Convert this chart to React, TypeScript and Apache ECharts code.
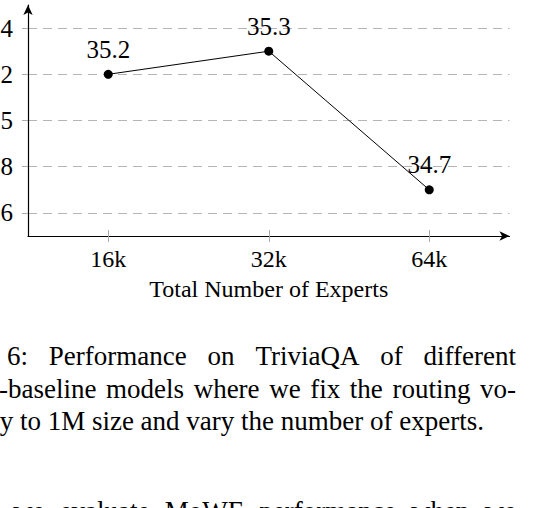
import React, { useEffect, useRef } from "react";
import * as echarts from "echarts";

const categories = ["16k", "32k", "64k"];
const scores = [35.2, 35.3, 34.7];
const yTicks = [34.6, 34.8, 35, 35.2, 35.4];
const xAxisTitle = "Total Number of Experts";
const captionLine1Hidden = "Figure";
const captionLine1 = ["6:", "Performance", "on", "TriviaQA", "of", "different"];
const captionLine2 = ["MoWE-baseline", "models", "where", "we", "fix", "the", "routing", "vo-"];
const captionLine3 = "cabulary to 1M size and vary the number of experts.";
const bodyLine = ["we", "evaluate", "MoWE", "performance", "when", "we"];

const SERIF = "Liberation Serif";

function App() {
  const ref = useRef<HTMLDivElement>(null);
  useEffect(() => {
    if (!ref.current) return;
    const chart = echarts.init(ref.current, undefined, { renderer: "svg" });

    const capFont = `27px "${SERIF}"`;
    const ctx = document.createElement("canvas").getContext("2d")!;
    ctx.font = capFont;
    const w = (s: string) => ctx.measureText(s).width;

    const texts: any[] = [];
    const addText = (text: string, x: number, y: number, align = "left") => {
      texts.push({
        type: "text",
        x,
        y,
        silent: true,
        style: { text, font: capFont, fill: "#000", align, verticalAlign: "middle" },
      });
    };
    const justify = (words: string[], left: number, right: number, y: number) => {
      const total = words.reduce((a, s) => a + w(s), 0);
      const gap = (right - left - total) / (words.length - 1);
      let x = left;
      words.forEach((s) => {
        addText(s, x, y);
        x += w(s) + gap;
      });
      return gap;
    };

    const y1 = 356, y2 = 389, y3 = 421, y4 = 511;
    const g1 = justify(captionLine1, 7, 516, y1);
    addText(captionLine1Hidden, 7 - g1 - w(captionLine1Hidden), y1);
    const first2 = captionLine2[0];
    const visible2 = first2.slice(first2.indexOf("-"));
    justify(captionLine2, -1 - (w(first2) - w(visible2)), 516, y2);
    addText(captionLine3, 484, y3, "right");
    justify(bodyLine, 13, 516, y4);

    chart.setOption({
      animation: false,
      backgroundColor: "#fff",
      textStyle: { fontFamily: SERIF },
      grid: {
        left: 28,
        right: 28.5,
        top: 5,
        bottom: 272,
        containLabel: false,
        outerBoundsMode: "none",
      },
      xAxis: [
        {
          type: "category",
          data: categories,
          boundaryGap: true,
          name: xAxisTitle,
          nameLocation: "middle",
          nameGap: 41,
          nameTextStyle: { fontFamily: SERIF, fontSize: 24, color: "#000" },
          axisLine: {
            show: true,
            symbol: ["none", "arrow"],
            symbolSize: [7, 10],
            lineStyle: { color: "#000", width: 1.2 },
          },
          axisTick: { show: true, alignWithLabel: true, length: 6, lineStyle: { color: "#aaa" } },
          axisLabel: { fontFamily: SERIF, fontSize: 24, color: "#000", margin: 11 },
          splitLine: { show: false },
        },
        {
          type: "category",
          data: categories,
          position: "bottom",
          boundaryGap: true,
          axisLine: { show: false },
          axisTick: { show: true, inside: true, alignWithLabel: true, length: 6, lineStyle: { color: "#aaa" } },
          axisLabel: { show: false },
          splitLine: { show: false },
        },
      ],
      yAxis: {
        type: "value",
        min: 34.5,
        max: 35.5,
        interval: 0.1,
        axisLine: {
          show: true,
          symbol: ["none", "arrow"],
          symbolSize: [7, 10],
          lineStyle: { color: "#000", width: 1.2 },
        },
        axisTick: { show: true, customValues: yTicks, length: 6, lineStyle: { color: "#aaa" } },
        axisLabel: {
          customValues: yTicks,
          fontFamily: SERIF,
          fontSize: 25,
          color: "#000",
          margin: 15,
          formatter: (v: number) => String(+Number(v).toFixed(1)),
        },
        splitLine: {
          show: true,
          lineStyle: { color: "#b5b5b5", type: [9, 6], width: 1 },
        },
      },
      series: [
        {
          type: "line",
          data: scores,
          xAxisIndex: 0,
          yAxisIndex: 0,
          symbol: "circle",
          symbolSize: 9,
          lineStyle: { color: "#000", width: 1 },
          itemStyle: { color: "#000" },
          label: {
            show: true,
            position: "top",
            distance: 8,
            fontFamily: SERIF,
            fontSize: 25,
            color: "#000",
            formatter: (p: any) => String(p.value),
          },
        },
      ],
      graphic: texts,
    });
    return () => chart.dispose();
  }, []);
  return (
    <div
      ref={ref}
      style={{ position: "fixed", left: 0, top: 0, width: 538, height: 508, background: "#fff" }}
    />
  );
}

export default App;
